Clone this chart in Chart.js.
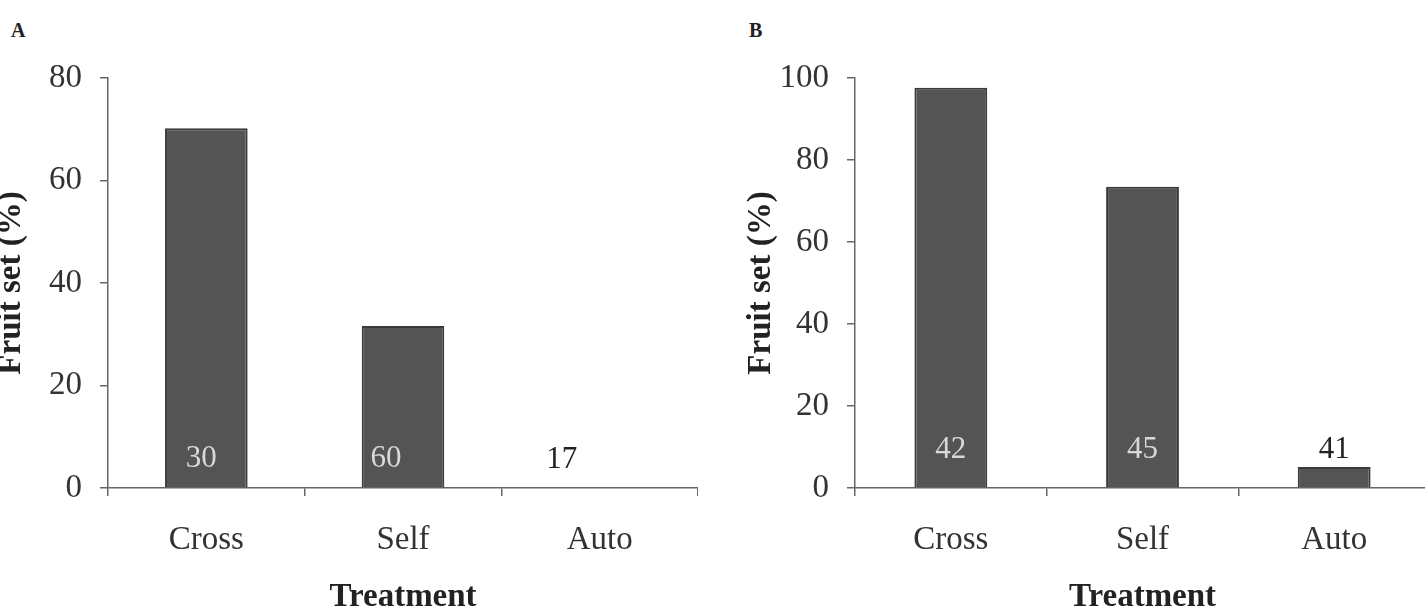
<!DOCTYPE html>
<html>
<head>
<meta charset="utf-8">
<script src="https://cdn.jsdelivr.net/npm/chart.js@4"></script>
<style>
  html, body { margin: 0; padding: 0; background: #fff; }
  body { width: 1425px; height: 610px; position: relative; overflow: hidden; }
  .panel { position: absolute; top: 0; height: 610px; }
  .tag { position: absolute; top: 19px; font: bold 20px "Liberation Serif", serif; color: #222; }
</style>
</head>
<body>
<div class="tag" style="left:11px">A</div>
<div class="tag" style="left:749px">B</div>
<div class="panel" id="wrapA" style="left:-8px; width:706px"><canvas id="chartA"></canvas></div>
<div class="panel" id="wrapB" style="left:742px; width:688px"><canvas id="chartB"></canvas></div>
<script>
// data
const treatments = ['Cross', 'Self', 'Auto'];
const fruitSetA = [70.2, 31.6, 0];
const fruitSetB = [97.6, 73.5, 5.1];
const countsA = [30, 60, 17];   // n printed on bars
const countsB = [42, 45, 41];
const ticksA = { max: 80, step: 20 };
const ticksB = { max: 100, step: 20 };

const serif = '"Liberation Serif", "DejaVu Serif", serif';
const axisGray = '#666';

// draws the n values near the bottom of each bar
const countLabels = {
    id: 'countLabels',
    afterDatasetsDraw(chart, args, opts) {
        const ctx = chart.ctx;
        const meta = chart.getDatasetMeta(0);
        ctx.save();
        ctx.font = '31px ' + serif;
        ctx.textAlign = 'center';
        ctx.textBaseline = 'middle';
        meta.data.forEach((bar, i) => {
            const y = bar.base - opts.inset;
            // light text when it sits inside the bar, dark above short bars
            ctx.fillStyle = bar.y < y - 10 ? '#d8d8d8' : '#222';
            ctx.fillText(String(opts.counts[i]), bar.x + (opts.shift[i] || 0), y);
        });
        ctx.restore();
    }
};

function makeChart(id, values, counts, tk, yWidth, barPct, inset, shift) {
    return new Chart(document.getElementById(id), {
        type: 'bar',
        data: {
            labels: treatments,
            datasets: [{
                data: values,
                backgroundColor: '#545454',
                borderColor: '#3a3a3a',
                borderWidth: 2,
                barPercentage: barPct,
                categoryPercentage: 1
            }]
        },
        options: {
            responsive: true,
            maintainAspectRatio: false,
            animation: false,
            layout: { padding: { top: 78, right: 0, bottom: 0, left: 0 } },
            plugins: {
                legend: { display: false },
                tooltip: { enabled: false },
                countLabels: { counts: counts, inset: inset, shift: shift }
            },
            scales: {
                x: {
                    afterFit: s => { s.height = 122; },
                    border: { color: axisGray, width: 1.5 },
                    grid: { drawOnChartArea: false, color: axisGray, lineWidth: 1.5, tickLength: 8, offset: true },
                    ticks: { color: '#333', padding: 25, font: { family: serif, size: 33 } },
                    title: { display: true, text: 'Treatment', color: '#222', padding: { top: 0, bottom: -7 },
                             font: { family: serif, size: 33, weight: 'bold' } }
                },
                y: {
                    min: 0,
                    max: tk.max,
                    afterFit: s => { s.width = yWidth; },
                    border: { color: axisGray, width: 1.5 },
                    grid: { drawOnChartArea: false, color: axisGray, lineWidth: 1.5, tickLength: 8 },
                    ticks: { stepSize: tk.step, color: '#333', padding: 18, font: { family: serif, size: 33 } },
                    title: { display: true, text: 'Fruit set (%)', color: '#222', padding: 0,
                             font: { family: serif, size: 33, weight: 'bold' } }
                }
            }
        },
        plugins: [countLabels]
    });
}

makeChart('chartA', fruitSetA, countsA, ticksA, 116, 0.42, 28, [-5, -17, -38]);
makeChart('chartB', fruitSetB, countsB, ticksB, 113, 0.38, 37, [0, 0, 0]);
</script>
</body>
</html>
